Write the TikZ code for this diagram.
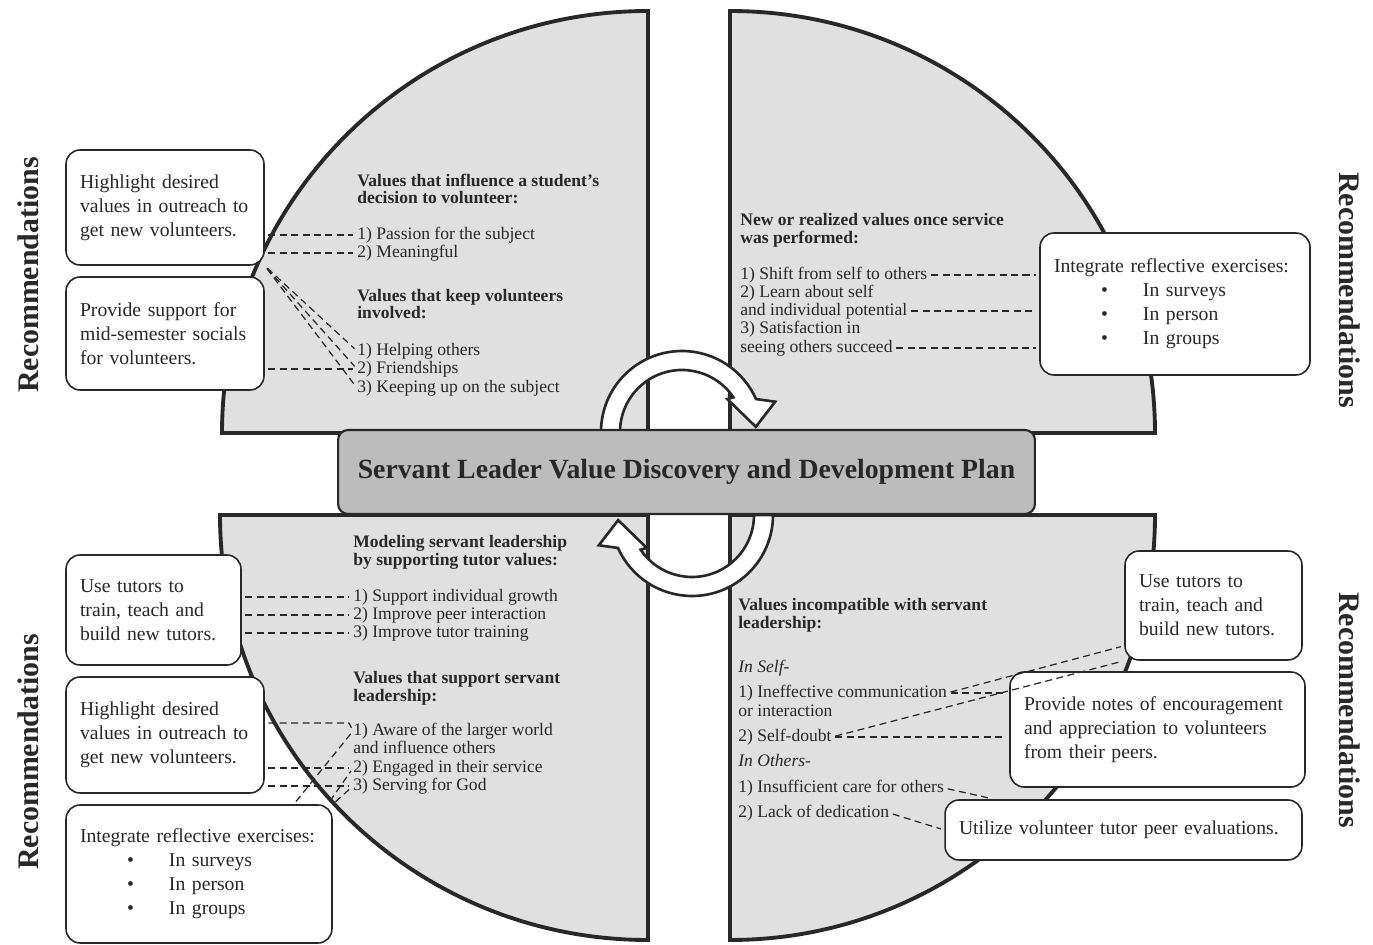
\documentclass[tikz,border=0pt]{standalone}
\usepackage{fontspec}
\setmainfont{Liberation Serif}
\usetikzlibrary{positioning,calc}
\definecolor{svDark}{RGB}{40,40,40}
\definecolor{svQuad}{RGB}{224,224,224}
\definecolor{svBanner}{RGB}{188,188,188}
\tikzset{
    quad/.style={draw=svDark, line width=2.2pt, fill=svQuad, line join=miter},
    cyclearrow/.style={draw=svDark, line width=1.5pt, fill=white, line join=miter},
    plan/.style={draw=svDark, line width=1.2pt, fill=svBanner, rounded corners=0.2cm,
                 minimum width=13.94cm, minimum height=1.68cm, text=svDark,
                 font=\fontsize{15.8}{18}\selectfont\bfseries},
    recbox/.style={draw=svDark, line width=0.9pt, fill=white, rounded corners=0.28cm,
                   align=left, inner xsep=0.28cm, text=svDark,
                   font=\fontsize{11.2}{13.6}\selectfont},
    qentry/.style={anchor=west, inner sep=0pt, text height=7pt, text depth=2pt,
                   text=svDark, font=\fontsize{10}{10.2}\selectfont},
    qhead/.style={qentry, font=\fontsize{10}{10.2}\selectfont\bfseries},
    qsub/.style={qentry, font=\fontsize{10}{10.2}\selectfont\itshape},
    dashlink/.style={draw=svDark, line width=0.7pt, dash pattern=on 4pt off 2.5pt,
                     shorten <=2pt, shorten >=2pt},
    rectitle/.style={text=svDark, font=\fontsize{17}{17}\selectfont\bfseries}
}
\newcommand{\bulletline}[1]{\hspace*{0.94cm}\makebox[0.84cm][l]{\textbullet}#1}

\begin{document}
\begin{tikzpicture}[x=0.02cm,y=0.02cm]
  \useasboundingbox (0,0) rectangle (1373,-945);

  % the four quarters
  \draw[quad] (648,-433) -- (648,-11) arc[start angle=90,end angle=180,x radius=426,y radius=422] -- cycle;
  \draw[quad] (730,-433) -- (730,-11) arc[start angle=90,end angle=0,x radius=425,y radius=422] -- cycle;
  \draw[quad] (648,-515) -- (220,-515) arc[start angle=180,end angle=270,x radius=428,y radius=425] -- cycle;
  \draw[quad] (730,-515) -- (1155,-515) arc[start angle=0,end angle=-90,x radius=425,y radius=425] -- cycle;

  % turning arrows
  \begin{scope}[shift={(682,-432)}]
    \draw[cyclearrow] (180:81) arc[start angle=180,end angle=24,radius=81] -- (18:98) -- (4:74)
      -- (36:56) -- (34:62) arc[start angle=34,end angle=180,radius=62] -- cycle;
  \end{scope}
  \begin{scope}[shift={(692,-515)},rotate=180]
    \draw[cyclearrow] (180:81) arc[start angle=180,end angle=24,radius=81] -- (18:98) -- (4:74)
      -- (36:56) -- (34:62) arc[start angle=34,end angle=180,radius=62] -- cycle;
  \end{scope}

  \node[plan] (title) at (686.5,-472) {Servant Leader Value Discovery and Development Plan};

  % top left quarter
  \node[qhead] at (357,-182) {Values that influence a student’s};
  \node[qhead] at (357,-199) {decision to volunteer:};
  \node[qentry] (tl1) at (357,-235) {1) Passion for the subject};
  \node[qentry] (tl2) at (357,-253) {2) Meaningful};
  \node[qhead] at (357,-297) {Values that keep volunteers};
  \node[qhead] at (357,-314) {involved:};
  \node[qentry] (tl3) at (357,-351) {1) Helping others};
  \node[qentry] (tl4) at (357,-369) {2) Friendships};
  \node[qentry] (tl5) at (357,-388) {3) Keeping up on the subject};

  % top right quarter
  \node[qhead] at (740,-221) {New or realized values once service};
  \node[qhead] at (740,-239) {was performed:};
  \node[qentry] (tr1) at (740,-275) {1) Shift from self to others};
  \node[qentry] at (740,-293) {2) Learn about self};
  \node[qentry] (tr2) at (740,-311) {and individual potential};
  \node[qentry] at (740,-329) {3) Satisfaction in};
  \node[qentry] (tr3) at (740,-348) {seeing others succeed};

  % bottom left quarter
  \node[qhead] at (353,-543) {Modeling servant leadership};
  \node[qhead] at (353,-561) {by supporting tutor values:};
  \node[qentry] (bl1) at (353,-597) {1) Support individual growth};
  \node[qentry] (bl2) at (353,-615) {2) Improve peer interaction};
  \node[qentry] (bl3) at (353,-633) {3) Improve tutor training};
  \node[qhead] at (353,-679) {Values that support servant};
  \node[qhead] at (353,-697) {leadership:};
  \node[qentry] (bl4) at (353,-731) {1) Aware of the larger world};
  \node[qentry] at (353,-749) {and influence others};
  \node[qentry] (bl5) at (353,-768) {2) Engaged in their service};
  \node[qentry] (bl6) at (353,-786) {3) Serving for God};

  % bottom right quarter
  \node[qhead] at (738,-606) {Values incompatible with servant};
  \node[qhead] at (738,-624) {leadership:};
  \node[qsub] at (738,-668) {In Self-};
  \node[qentry] (br1) at (738,-693) {1) Ineffective communication};
  \node[qentry] at (738,-712) {or interaction};
  \node[qentry] (br2) at (738,-737) {2) Self-doubt};
  \node[qsub] at (738,-762) {In Others-};
  \node[qentry] (br3) at (738,-788) {1) Insufficient care for others};
  \node[qentry] (br4) at (738,-813) {2) Lack of dedication};

  % recommendation boxes
  \node[recbox, text width=3.4cm, minimum height=2.3cm] (hlTop) at (165,-207.5)
    {Highlight desired\\values in outreach to\\get new volunteers.};
  \node[recbox, text width=3.4cm, minimum height=2.26cm] (supTop) at (165,-333.5)
    {Provide support for\\mid-semester socials\\for volunteers.};
  \node[recbox, text width=2.94cm, minimum height=2.2cm] (tutBL) at (153.5,-610)
    {Use tutors to\\train, teach and\\build new tutors.};
  \node[recbox, text width=3.4cm, minimum height=2.32cm] (hlBL) at (165,-735)
    {Highlight desired\\values in outreach to\\get new volunteers.};
  \node[recbox, text width=4.76cm, minimum height=2.76cm] (refBL) at (199,-874)
    {Integrate reflective exercises:\\\bulletline{In surveys}\\\bulletline{In person}\\\bulletline{In groups}};
  \node[recbox, text width=4.84cm, minimum height=2.84cm] (refTR) at (1175,-304)
    {Integrate reflective exercises:\\\bulletline{In surveys}\\\bulletline{In person}\\\bulletline{In groups}};
  \node[recbox, text width=2.98cm, minimum height=2.18cm] (tutBR) at (1213.5,-605.5)
    {Use tutors to\\train, teach and\\build new tutors.};
  \node[recbox, text width=5.34cm, minimum height=2.3cm] (notesBR) at (1157.5,-729.5)
    {Provide notes of encouragement\\and appreciation to volunteers\\from their peers.};
  \node[recbox, text width=6.58cm, minimum height=1.2cm] (evalBR) at (1123.5,-830)
    {Utilize volunteer tutor peer evaluations.};

  % dashed links
  \draw[dashlink] (hlTop.east |- tl1) -- (tl1.west);
  \draw[dashlink] (hlTop.east |- tl2) -- (tl2.west);
  \draw[dashlink] (hlTop.south east) -- (tl3.west);
  \draw[dashlink] (hlTop.south east) -- (tl4.west);
  \draw[dashlink] (hlTop.south east) -- (tl5.west);
  \draw[dashlink] (supTop.east |- tl4) -- (tl4.west);

  \draw[dashlink] (tr1.east) -- (refTR.west |- tr1);
  \draw[dashlink] (tr2.east) -- (refTR.west |- tr2);
  \draw[dashlink] (tr3.east) -- (refTR.west |- tr3);

  \draw[dashlink] (tutBL.east |- bl1) -- (bl1.west);
  \draw[dashlink] (tutBL.east |- bl2) -- (bl2.west);
  \draw[dashlink] (tutBL.east |- bl3) -- (bl3.west);
  \draw[dashlink] ($(hlBL.east |- bl4)+(0,8)$) -- ($(bl4.west)+(-4,8)$) -- (bl4.west);
  \draw[dashlink] (hlBL.east |- bl5) -- (bl5.west);
  \draw[dashlink] (hlBL.east |- bl6) -- (bl6.west);
  \draw[dashlink] ([xshift=-0.78cm]refBL.north east) -- (bl4.west);
  \draw[dashlink] ([xshift=-0.1cm]refBL.north east) -- (bl5.west);
  \draw[dashlink] (refBL.north east) -- (bl6.west);

  \draw[dashlink] (br1.east) -- ([yshift=0.3cm]tutBR.south west);
  \draw[dashlink] (br2.east) -- (tutBR.south west);
  \draw[dashlink] (br1.east) -- (notesBR.west |- br1);
  \draw[dashlink] (br2.east) -- (notesBR.west |- br2);
  \draw[dashlink] (br3.east) -- ([xshift=1cm]evalBR.north west);
  \draw[dashlink] (br4.east) -- (evalBR.west);

  % side titles
  \node[rectitle, rotate=90] (recTL) at (28,-275) {Recommendations};
  \node[rectitle, rotate=90] (recBL) at (28,-752) {Recommendations};
  \node[rectitle, rotate=-90] (recTR) at (1350,-290) {Recommendations};
  \node[rectitle, rotate=-90] (recBR) at (1350,-710) {Recommendations};
\end{tikzpicture}
\end{document}
